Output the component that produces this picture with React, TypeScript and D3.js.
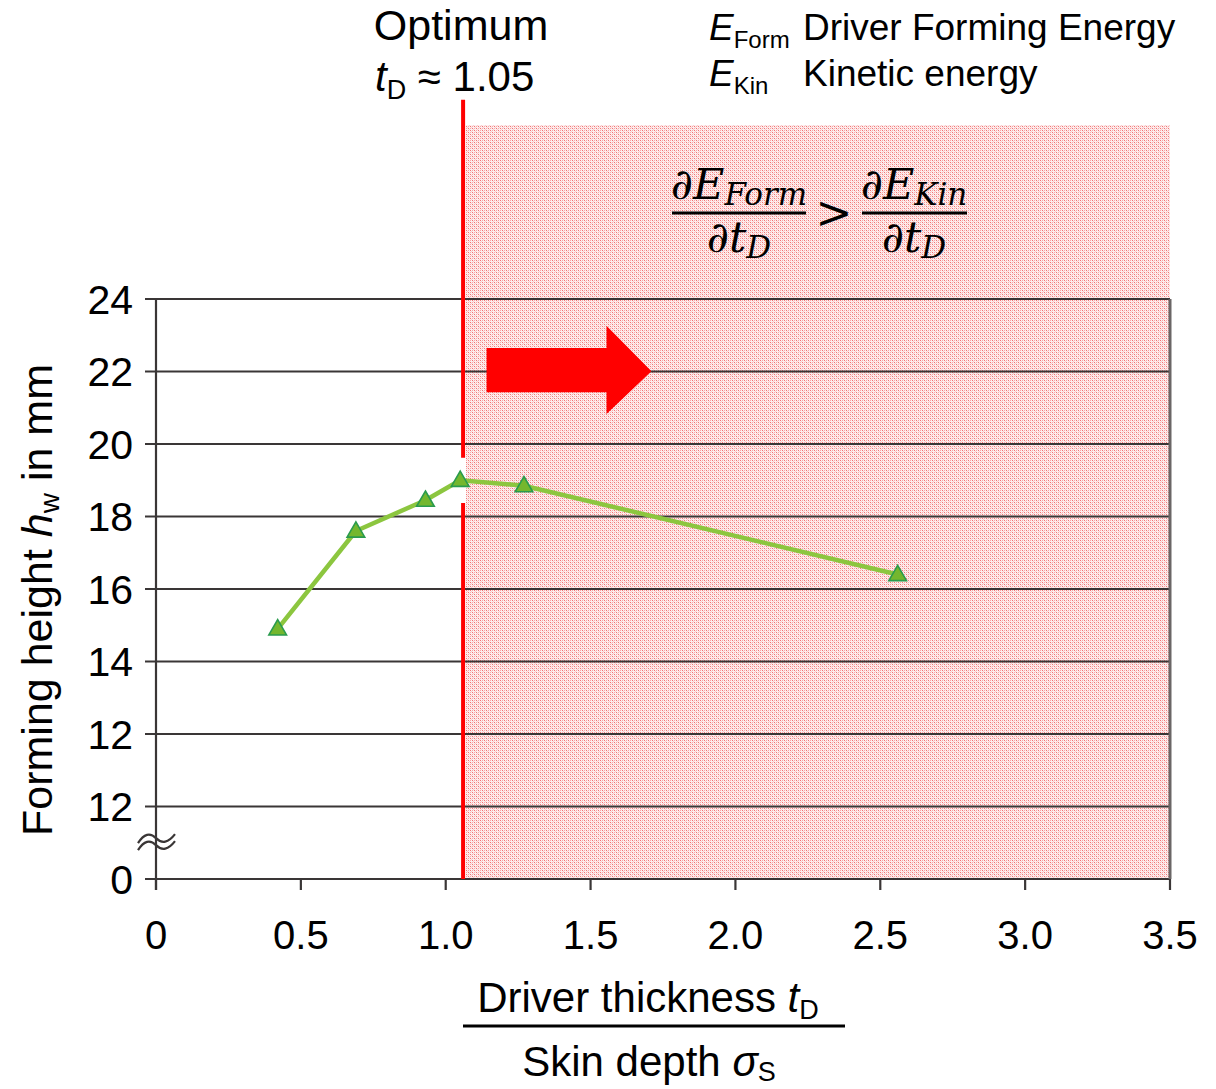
import React from 'react';
import * as d3 from 'd3';

// Data
const xValues = [0.42, 0.69, 0.93, 1.05, 1.27, 2.56];
const yValues = [14.9, 17.6, 18.45, 19.0, 18.85, 16.4];
const xTicks = [0, 0.5, 1.0, 1.5, 2.0, 2.5, 3.0, 3.5];
const xTickLabels = ['0', '0.5', '1.0', '1.5', '2.0', '2.5', '3.0', '3.5'];
const yTickValues = [24, 22, 20, 18, 16, 14, 12, 10, 8];
const yTickLabels = ['24', '22', '20', '18', '16', '14', '12', '12', '0'];
const optimumX = [1.06];
const redLineRange = [8, 29.5];
const redLineGap = [18.37, 19.62];
const shadeX = [1.07, 3.5];
const shadeY = [8, 28.8];
const arrowX = [1.141, 1.555, 1.71]; // body start, head start, tip
const arrowY = [20.83, 21.43, 22.01, 22.65, 23.26]; // head bottom, body bottom, tip, body top, head top
const breakValue = [9.1];

const W = 1216;
const H = 1089;
const sans = '"Liberation Sans", Arial, Helvetica, sans-serif';
const serif = '"DejaVu Serif", "Liberation Serif", serif';

export default function App() {
  const x = d3.scaleLinear().domain([0, 3.5]).range([156, 1170]);
  const y = d3.scaleLinear().domain([8, 24]).range([879, 299]);

  const line = d3
    .line<number>()
    .x((_, i) => x(xValues[i]))
    .y((d) => y(d));
  const tri = d3.symbol().type(d3.symbolTriangle).size(135)() as string;

  const ox = x(optimumX[0]);
  const arrowPts: [number, number][] = [
    [x(arrowX[0]), y(arrowY[3])],
    [x(arrowX[1]), y(arrowY[3])],
    [x(arrowX[1]), y(arrowY[4])],
    [x(arrowX[2]), y(arrowY[2])],
    [x(arrowX[1]), y(arrowY[0])],
    [x(arrowX[1]), y(arrowY[1])],
    [x(arrowX[0]), y(arrowY[1])],
  ];
  const arrowPath = 'M' + arrowPts.map((p) => p.join(',')).join('L') + 'Z';

  const bx = x(0);
  const by = y(breakValue[0]);
  const wave = (dy: number) =>
    `M${bx - 18},${by + 4 + dy} Q${bx - 9},${by - 10 + dy} ${bx},${by - 1 + dy} T${bx + 19},${by - 5 + dy}`;

  return (
    <svg
      width={W}
      height={H}
      style={{ position: 'absolute', left: 0, top: 0, background: '#fff' }}
      xmlns="http://www.w3.org/2000/svg"
    >
      <defs>
        <pattern id="hatch" width="4" height="4" patternUnits="userSpaceOnUse">
          <rect width="4" height="4" fill="#fdeeee" />
          <rect x="0" y="0" width="1" height="1" fill="#f27474" />
          <rect x="2" y="2" width="1" height="1" fill="#f27474" />
          <rect x="2" y="0" width="1" height="1" fill="#f7a8a8" />
          <rect x="0" y="2" width="1" height="1" fill="#f7a8a8" />
          <rect x="1" y="1" width="1" height="1" fill="#fbcccc" />
          <rect x="3" y="3" width="1" height="1" fill="#fbcccc" />
        </pattern>
      </defs>
      <rect width={W} height={H} fill="#fff" />

      {/* shaded region */}
      <rect
        x={x(shadeX[0])}
        y={y(shadeY[1])}
        width={x(shadeX[1]) - x(shadeX[0])}
        height={y(shadeY[0]) - y(shadeY[1])}
        fill="url(#hatch)"
      />

      {/* grid lines */}
      {yTickValues.map((v, i) => (
        <line key={'g' + i} x1={145} x2={x(3.5)} y1={y(v)} y2={y(v)} stroke="#3a3636" strokeWidth={2.2} />
      ))}
      {/* right border */}
      <line x1={x(3.5)} x2={x(3.5)} y1={y(24)} y2={y(8)} stroke="#6a6666" strokeWidth={3} />
      {/* y axis */}
      <line x1={x(0)} x2={x(0)} y1={y(24)} y2={y(8) + 11} stroke="#3a3636" strokeWidth={2.2} />
      {/* x ticks */}
      {xTicks.map((v, i) => (
        <line key={'xt' + i} x1={x(v)} x2={x(v)} y1={y(8)} y2={y(8) + 11} stroke="#3a3636" strokeWidth={2.2} />
      ))}
      {/* break symbol */}
      <path d={wave(0)} fill="none" stroke="#3a3636" strokeWidth={2.2} />
      <path d={wave(7)} fill="none" stroke="#3a3636" strokeWidth={2.2} />

      {/* y tick labels */}
      {yTickValues.map((v, i) => (
        <text
          key={'yl' + i}
          x={133}
          y={y(v)}
          dy="0.36em"
          textAnchor="end"
          fontFamily={sans}
          fontSize={41}
          fill="#000"
        >
          {yTickLabels[i]}
        </text>
      ))}
      {/* x tick labels */}
      {xTicks.map((v, i) => (
        <text key={'xl' + i} x={x(v)} y={949} textAnchor="middle" fontFamily={sans} fontSize={40} fill="#000">
          {xTickLabels[i]}
        </text>
      ))}

      {/* red optimum line */}
      <line x1={ox} x2={ox} y1={y(redLineRange[1])} y2={y(redLineGap[1])} stroke="#ff0000" strokeWidth={4} />
      <line x1={ox} x2={ox} y1={y(redLineGap[0])} y2={y(redLineRange[0])} stroke="#ff0000" strokeWidth={4} />

      {/* arrow */}
      <path d={arrowPath} fill="#ff0000" />

      {/* series */}
      <path d={line(yValues) as string} fill="none" stroke="#8cc63f" strokeWidth={4.5} strokeLinejoin="round" />
      {yValues.map((v, i) => (
        <path
          key={'m' + i}
          d={tri}
          transform={`translate(${x(xValues[i])},${y(v) + 1})`}
          fill="#74b72e"
          stroke="#2a9b4e"
          strokeWidth={1.6}
        />
      ))}

      {/* Optimum annotation */}
      <text x={461} y={40} textAnchor="middle" fontFamily={sans} fontSize={43} fill="#000">
        Optimum
      </text>
      <text x={375} y={91} fontFamily={sans} fontSize={42} fill="#000">
        <tspan fontStyle="italic">t</tspan>
        <tspan fontSize={27} dy={8}>D</tspan>
        <tspan dy={-8}> ≈ 1.05</tspan>
      </text>

      {/* legend-like definitions */}
      <text x={709} y={40} fontFamily={sans} fontSize={37} fill="#000">
        <tspan fontStyle="italic">E</tspan>
        <tspan fontSize={24} dy={8}>Form</tspan>
      </text>
      <text x={803} y={40} fontFamily={sans} fontSize={37} fill="#000">
        Driver Forming Energy
      </text>
      <text x={709} y={86} fontFamily={sans} fontSize={37} fill="#000">
        <tspan fontStyle="italic">E</tspan>
        <tspan fontSize={24} dy={8}>Kin</tspan>
      </text>
      <text x={803} y={86} fontFamily={sans} fontSize={37} fill="#000">
        Kinetic energy
      </text>

      {/* formula */}
      <g fontFamily={serif} fontStyle="italic" fill="#000">
        <text x={739} y={199} textAnchor="middle" fontSize={43}>
          ∂E<tspan fontSize={31} dy={6}>Form</tspan>
        </text>
        <line x1={672} x2={806} y1={213} y2={213} stroke="#000" strokeWidth={3} />
        <text x={739} y={252} textAnchor="middle" fontSize={43}>
          ∂t<tspan fontSize={31} dy={6}>D</tspan>
        </text>
        <text x={834} y={228} textAnchor="middle" fontSize={44} fontStyle="normal">
          &gt;
        </text>
        <text x={914} y={199} textAnchor="middle" fontSize={43}>
          ∂E<tspan fontSize={31} dy={6}>Kin</tspan>
        </text>
        <line x1={862} x2={967} y1={213} y2={213} stroke="#000" strokeWidth={3} />
        <text x={914} y={252} textAnchor="middle" fontSize={43}>
          ∂t<tspan fontSize={31} dy={6}>D</tspan>
        </text>
      </g>

      {/* y axis title */}
      <text
        transform="translate(52,600) rotate(-90)"
        textAnchor="middle"
        fontFamily={sans}
        fontSize={43}
        fill="#000"
      >
        Forming height <tspan fontStyle="italic">h</tspan>
        <tspan fontSize={28} dy={7}>w</tspan>
        <tspan dy={-7}> in mm</tspan>
      </text>

      {/* x axis title */}
      <text x={648} y={1012} textAnchor="middle" fontFamily={sans} fontSize={42} fill="#000">
        Driver thickness <tspan fontStyle="italic">t</tspan>
        <tspan fontSize={27} dy={7}>D</tspan>
      </text>
      <line x1={463} x2={845} y1={1026} y2={1026} stroke="#000" strokeWidth={3} />
      <text x={649} y={1076} textAnchor="middle" fontFamily={sans} fontSize={42} fill="#000">
        Skin depth <tspan fontStyle="italic">σ</tspan>
        <tspan fontSize={27} dy={5}>S</tspan>
      </text>
    </svg>
  );
}
